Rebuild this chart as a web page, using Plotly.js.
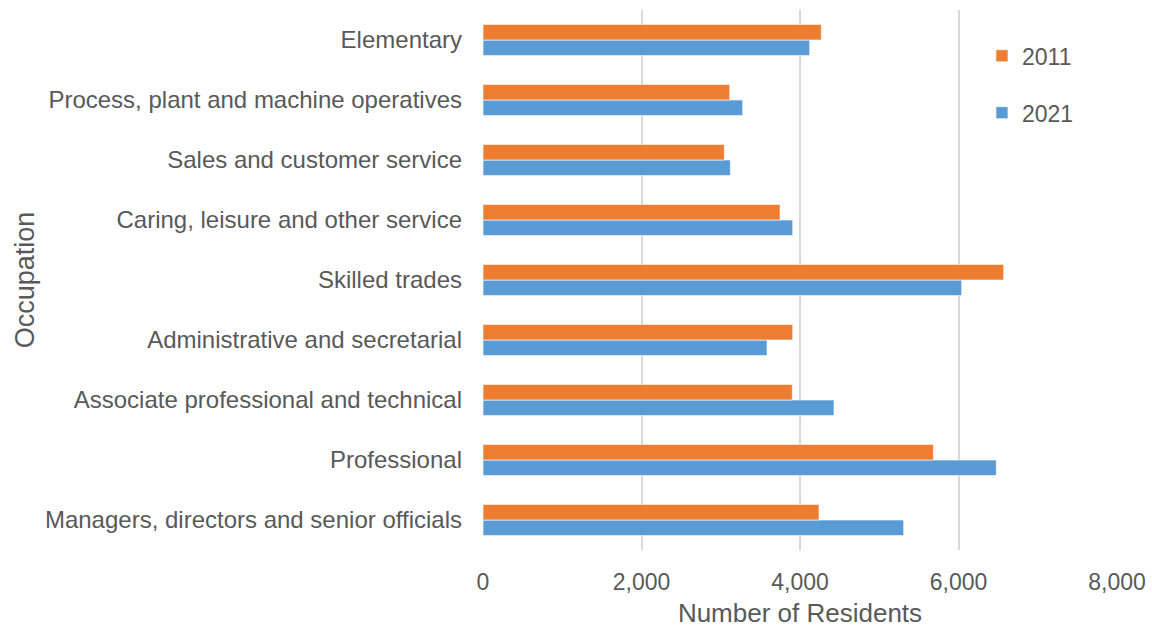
<!DOCTYPE html>
<html>
<head>
<meta charset="utf-8">
<script src="https://cdn.plot.ly/plotly-3.0.1.min.js"></script>
<style>html,body{margin:0;padding:0;background:#fff;}#chart{width:1152px;height:630px;}</style>
</head>
<body>
<div id="chart"></div>
<script>
const categories = [
  "Managers, directors and senior officials",
  "Professional",
  "Associate professional and technical",
  "Administrative and secretarial",
  "Skilled trades",
  "Caring, leisure and other service",
  "Sales and customer service",
  "Process, plant and machine operatives",
  "Elementary"
];
const values2011 = [4240, 5683, 3903, 3908, 6570, 3748, 3045, 3113, 4269];
const values2021 = [5308, 6477, 4429, 3584, 6040, 3908, 3121, 3277, 4122];
const xTickVals = [0, 2000, 4000, 6000, 8000];
const xTickText = ["0", "2,000", "4,000", "6,000", "8,000"];

const font = "Liberation Sans, Arial, sans-serif";
const traces = [
  {type: "bar", orientation: "h", name: "2021", y: categories, x: values2021,
   marker: {color: "#5B9BD5", line: {color: "rgba(255,255,255,0.6)", width: 1}},
   legendgroup: "b", legendrank: 2},
  {type: "bar", orientation: "h", name: "2011", y: categories, x: values2011,
   marker: {color: "#ED7D31", line: {color: "rgba(255,255,255,0.6)", width: 1}},
   legendgroup: "a", legendrank: 1}
];
const layout = {
  width: 1152, height: 630,
  margin: {l: 483, r: 35, t: 10, b: 80},
  paper_bgcolor: "#fff", plot_bgcolor: "#fff",
  barmode: "group", bargap: 0.48, bargroupgap: 0,
  font: {family: font, color: "#595959", size: 20},
  xaxis: {range: [0, 8000], tickvals: xTickVals, ticktext: xTickText,
          showgrid: true, gridcolor: "#d9d9d9", gridwidth: 2, zeroline: false,
          showline: false, ticks: "", ticklabelstandoff: 16,
          tickfont: {size: 23, color: "#595959"},
          title: {text: "Number of Residents", font: {size: 26, color: "#595959"}, standoff: 9}},
  yaxis: {type: "category", showgrid: false, zeroline: false, showline: false, ticks: "",
          ticklabelstandoff: 20,
          tickfont: {size: 24, color: "#595959"},
          title: {text: "Occupation", font: {size: 27, color: "#595959"}, standoff: 2}},
  showlegend: true,
  legend: {x: 0.787, y: 0.955, xanchor: "left", yanchor: "top", traceorder: "grouped",
           tracegroupgap: 24, font: {size: 23, color: "#595959"}, bgcolor: "rgba(0,0,0,0)"}
};
Plotly.newPlot("chart", traces, layout, {displayModeBar: false, staticPlot: true});
</script>
</body>
</html>
